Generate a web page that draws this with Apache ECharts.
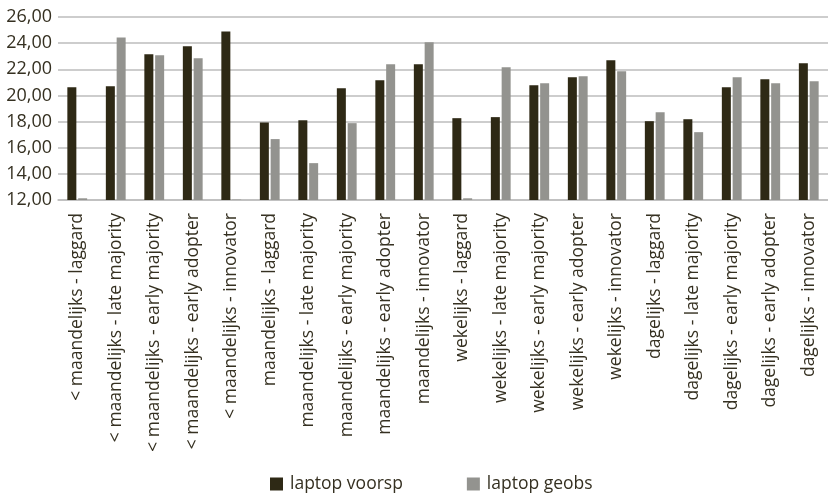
<!DOCTYPE html>
<html>
<head>
<meta charset="utf-8">
<script src="https://cdn.jsdelivr.net/npm/echarts@6/dist/echarts.min.js"></script>
<style>
  html, body { margin: 0; padding: 0; background: #ffffff; }
  #chart { width: 828px; height: 493px; }
</style>
</head>
<body>
<div id="chart"></div>
<script>
// Categories: usage frequency - adopter type
const categories = [
  '< maandelijks - laggard',
  '< maandelijks - late majority',
  '< maandelijks - early majority',
  '< maandelijks - early adopter',
  '< maandelijks - innovator',
  'maandelijks - laggard',
  'maandelijks - late majority',
  'maandelijks - early majority',
  'maandelijks - early adopter',
  'maandelijks - innovator',
  'wekelijks - laggard',
  'wekelijks - late majority',
  'wekelijks - early majority',
  'wekelijks - early adopter',
  'wekelijks - innovator',
  'dagelijks - laggard',
  'dagelijks - late majority',
  'dagelijks - early majority',
  'dagelijks - early adopter',
  'dagelijks - innovator'
];

const laptopVoorsp = [
  20.63, 20.70, 23.15, 23.76, 24.90,
  17.93, 18.10, 20.55, 21.16, 22.38,
  18.26, 18.34, 20.78, 21.39, 22.69,
  18.03, 18.18, 20.63, 21.24, 22.46
];

const laptopGeobs = [
  12.13, 24.44, 23.07, 22.84, 12.03,
  16.66, 14.82, 17.88, 22.38, 24.06,
  12.13, 22.15, 20.93, 21.47, 21.85,
  18.72, 17.19, 21.39, 20.93, 21.08
];

const seriesNames = ['laptop voorsp', 'laptop geobs'];

const textColor = '#353021';
const fontFamily = '"Open Sans", "Noto Sans", sans-serif';

const chart = echarts.init(document.getElementById('chart'), null, { renderer: 'canvas' });

chart.setOption({
  animation: false,
  backgroundColor: '#ffffff',
  textStyle: { fontFamily: fontFamily, color: textColor },
  grid: { left: 58, top: 17, width: 780, height: 183, containLabel: false },
  legend: {
    data: seriesNames,
    left: 270,
    top: 475,
    padding: 0,
    itemWidth: 13,
    itemHeight: 13,
    itemGap: 64,
    icon: 'rect',
    textStyle: { fontSize: 17.5, color: textColor, fontFamily: fontFamily, padding: [0, 0, 0, 2] }
  },
  xAxis: {
    type: 'category',
    data: categories,
    axisLine: { show: true, lineStyle: { color: '#bdbdbd', width: 1.5 } },
    axisTick: { show: false },
    axisLabel: {
      rotate: 90,
      interval: 0,
      margin: 13,
      fontSize: 17.5,
      color: textColor,
      fontFamily: fontFamily
    }
  },
  yAxis: {
    type: 'value',
    min: 12,
    max: 26,
    interval: 2,
    axisLine: { show: false },
    axisTick: { show: false },
    splitLine: { show: true, lineStyle: { color: '#bdbdbd', width: 1.5 } },
    axisLabel: {
      margin: 6,
      fontSize: 18,
      color: textColor,
      fontFamily: fontFamily,
      formatter: v => v.toFixed(2).replace('.', ',')
    }
  },
  series: [
    {
      name: seriesNames[0],
      type: 'bar',
      data: laptopVoorsp,
      barWidth: 9,
      barGap: '20%',
      itemStyle: { color: '#2e2915' }
    },
    {
      name: seriesNames[1],
      type: 'bar',
      data: laptopGeobs,
      barWidth: 9,
      itemStyle: { color: '#93938f' }
    }
  ]
});
</script>
</body>
</html>
